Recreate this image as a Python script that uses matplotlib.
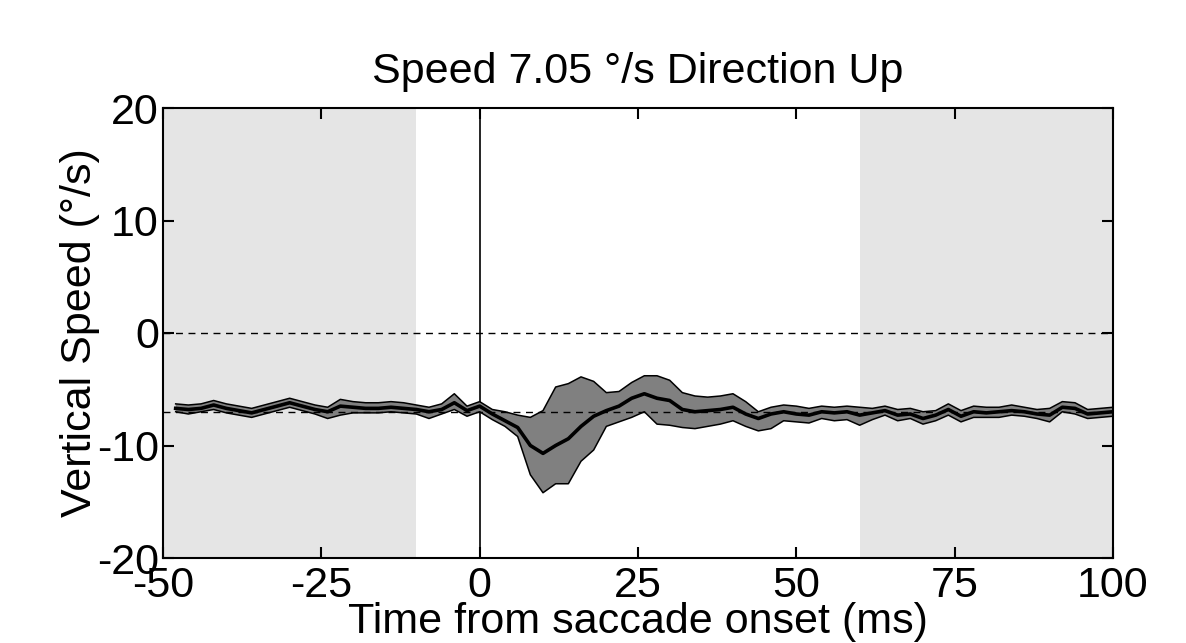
import matplotlib
matplotlib.use("Agg")
import matplotlib.pyplot as plt

plt.rcParams['font.family'] = ['Liberation Sans', 'DejaVu Sans']
plt.rcParams['axes.unicode_minus'] = False

title = "Speed 7.05 °/s Direction Up"
xlabel = "Time from saccade onset (ms)"
ylabel = "Vertical Speed (°/s)"
ref_speed = -7.05
shade_regions = [(-50, -10), (60, 100)]
xticks = [-50, -25, 0, 25, 50, 75, 100]
yticks = [-20, -10, 0, 10, 20]

time = [-48, -46, -44, -42, -40, -38, -36, -34, -32, -30, -28, -26, -24, -22, -20,
        -18, -16, -14, -12, -10, -8, -6, -4, -2, 0, 2, 4, 6, 8, 10, 12, 14, 16, 18,
        20, 22, 24, 26, 28, 30, 32, 34, 36, 38, 40, 42, 44, 46, 48, 50, 52, 54, 56,
        58, 60, 62, 64, 66, 68, 70, 72, 74, 76, 78, 80, 82, 84, 86, 88, 90, 92, 94,
        96, 98, 100]
mean_speed = [-6.7, -6.8, -6.7, -6.4, -6.7, -6.9, -7.1, -6.8, -6.5, -6.2, -6.5, -6.8,
              -7.0, -6.5, -6.6, -6.7, -6.7, -6.6, -6.7, -6.8, -7.0, -6.8, -6.2, -6.9,
              -6.5, -7.2, -7.8, -8.4, -10.0, -10.7, -10.0, -9.4, -8.3, -7.4, -6.9,
              -6.5, -5.8, -5.4, -5.8, -6.0, -6.8, -7.0, -6.9, -6.8, -6.6, -7.2, -7.6,
              -7.2, -7.0, -7.2, -7.3, -7.0, -7.1, -7.0, -7.3, -7.1, -6.9, -7.3, -7.2,
              -7.6, -7.3, -6.8, -7.4, -7.0, -7.1, -7.0, -6.9, -7.0, -7.2, -7.3, -6.6,
              -6.7, -7.2, -7.1, -7.0]
lower_speed = [-7.0, -7.2, -7.0, -6.8, -7.1, -7.3, -7.5, -7.2, -6.9, -6.6, -6.9, -7.2,
               -7.6, -7.3, -7.1, -7.1, -7.1, -7.0, -7.1, -7.2, -7.6, -7.2, -6.8, -7.4,
               -7.0, -7.7, -8.3, -9.2, -12.6, -14.2, -13.4, -13.4, -11.4, -10.4, -8.3,
               -7.9, -7.5, -7.0, -8.1, -8.2, -8.4, -8.5, -8.3, -8.1, -7.8, -8.3, -8.7,
               -8.5, -7.8, -7.9, -8.0, -7.6, -7.8, -7.7, -8.2, -7.7, -7.3, -7.8, -7.6,
               -8.1, -7.8, -7.3, -7.9, -7.5, -7.5, -7.5, -7.3, -7.4, -7.6, -7.9, -7.0,
               -7.2, -7.6, -7.5, -7.4]
upper_speed = [-6.3, -6.4, -6.3, -6.0, -6.3, -6.5, -6.7, -6.4, -6.1, -5.8, -6.1, -6.4,
               -6.6, -5.9, -6.1, -6.2, -6.2, -6.1, -6.2, -6.4, -6.6, -6.3, -5.4, -6.5,
               -6.1, -6.8, -7.0, -7.3, -7.5, -6.9, -4.8, -4.5, -3.9, -4.3, -5.3, -5.2,
               -4.4, -3.8, -3.8, -4.2, -5.3, -5.6, -5.7, -5.6, -5.4, -6.1, -7.0, -6.6,
               -6.4, -6.5, -6.7, -6.5, -6.6, -6.5, -6.6, -6.7, -6.5, -6.8, -6.7, -7.0,
               -6.9, -6.3, -6.9, -6.5, -6.6, -6.6, -6.4, -6.6, -6.8, -6.7, -6.1, -6.2,
               -6.8, -6.7, -6.6]

fig = plt.figure(figsize=(11.86, 6.43), dpi=100)
ax = fig.add_axes([163 / 1186, 1 - 558 / 643, (1113 - 163) / 1186, (558 - 108) / 643])

for x0, x1 in shade_regions:
    ax.axvspan(x0, x1, color='#e5e5e5', lw=0, zorder=0)

ax.axhline(0, color='black', lw=1.0, ls=(0, (5, 4)), zorder=1)
ax.axvline(0, color='black', lw=1.2, zorder=1)

ax.fill_between(time, lower_speed, upper_speed, facecolor='#808080', edgecolor='none', zorder=2)
ax.plot(time, lower_speed, color='black', lw=1.1, zorder=3)
ax.plot(time, upper_speed, color='black', lw=1.1, zorder=3)
ax.axhline(ref_speed, color='black', lw=1.0, ls=(0, (5, 4)), zorder=3)
ax.plot(time, mean_speed, color='black', lw=2.6, zorder=4)

ax.set_xlim(-50, 100)
ax.set_ylim(-20, 20)
ax.set_xticks(xticks)
ax.set_yticks(yticks)
ax.tick_params(direction='in', length=8, width=1.5, top=True, right=True,
               labelsize=31)
ax.tick_params(axis='x', pad=6)
ax.tick_params(axis='y', pad=3)
for s in ax.spines.values():
    s.set_linewidth(1.5)

ax.set_title(title, fontsize=31, pad=18)
ax.set_xlabel(xlabel, fontsize=31, labelpad=-3)
ax.set_ylabel(ylabel, fontsize=31, labelpad=-2)

fig.savefig('out.png', dpi=100)
